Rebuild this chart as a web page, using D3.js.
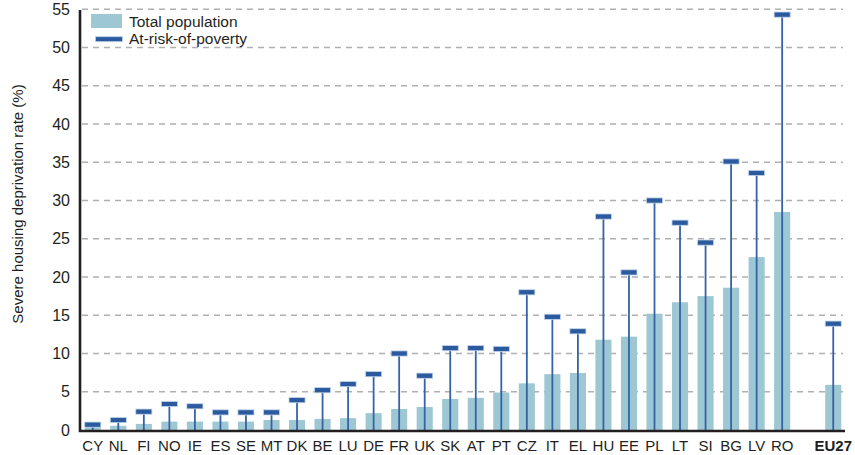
<!DOCTYPE html>
<html>
<head>
<meta charset="utf-8">
<script src="https://cdn.jsdelivr.net/npm/d3@7/dist/d3.min.js"></script>
<style>
  html, body { margin: 0; padding: 0; background: #fff; }
  svg { display: block; font-family: "Liberation Sans", Arial, Helvetica, sans-serif; }
</style>
</head>
<body>
<svg id="chart" width="855" height="455"></svg>
<script>
const categories = ["CY","NL","FI","NO","IE","ES","SE","MT","DK","BE","LU","DE","FR","UK","SK","AT","PT","CZ","IT","EL","HU","EE","PL","LT","SI","BG","LV","RO","","EU27"];
const totalPopulation = [0.35,0.55,0.8,1.1,1.1,1.1,1.1,1.3,1.3,1.45,1.55,2.2,2.75,3.0,4.05,4.2,4.9,6.1,7.3,7.45,11.8,12.2,15.2,16.7,17.5,18.6,22.6,28.5,null,5.9];
const atRiskOfPoverty = [0.7,1.3,2.4,3.4,3.1,2.3,2.3,2.3,3.9,5.2,6.0,7.3,10.0,7.1,10.7,10.7,10.6,18.0,14.8,12.9,27.9,20.6,30.0,27.1,24.5,35.1,33.6,54.3,null,13.9];
const yTicks = [0,5,10,15,20,25,30,35,40,45,50,55];
const yLabel = "Severe housing deprivation rate (%)";
const legendLabels = ["Total population","At-risk-of-poverty"];

(function () {
const barColor = "#9cc7d3";
const capColor = "#2b5b9e";
const stemColor = "#3563a6";
const ink = "#231f20";

const svg = d3.select("#chart");
const pLeft = 80, pRight = 846, pTop = 10, pBottom = 430;

const slots = categories.map((c, i) => c === "" ? "__gap" + i : c);
const x = d3.scaleBand().domain(slots).range([pLeft, pRight]).paddingInner(0.37).paddingOuter(0.185);
const y = d3.scaleLinear().domain([0, 55]).range([pBottom, pBottom - 55 * 7.65]);

// gridlines
svg.append("g").selectAll("line").data(yTicks.filter(d => d > 0)).join("line")
  .attr("x1", pLeft + 2).attr("x2", 843)
  .attr("y1", d => y(d)).attr("y2", d => y(d))
  .attr("stroke", "#b0b0b0").attr("stroke-width", 1.5).attr("stroke-dasharray", "6,5");

const data = categories.map((c, i) => ({ key: slots[i], label: c, tot: totalPopulation[i], risk: atRiskOfPoverty[i] }))
  .filter(d => d.label !== "");

// bars
svg.append("g").selectAll("rect").data(data).join("rect")
  .attr("x", d => x(d.key)).attr("width", x.bandwidth())
  .attr("y", d => y(d.tot)).attr("height", d => y(0) - y(d.tot))
  .attr("fill", barColor);

// stems
svg.append("g").selectAll("line").data(data).join("line")
  .attr("x1", d => x(d.key) + x.bandwidth() / 2).attr("x2", d => x(d.key) + x.bandwidth() / 2)
  .attr("y1", y(0)).attr("y2", d => y(d.risk))
  .attr("stroke", stemColor).attr("stroke-width", 1.8);

// caps
svg.append("g").selectAll("rect").data(data).join("rect")
  .attr("x", d => x(d.key)).attr("width", x.bandwidth())
  .attr("y", d => y(d.risk) - 2.6).attr("height", 5.2)
  .attr("fill", capColor).attr("stroke", "#c5d5ea").attr("stroke-width", 0.8);

// axes
const yAxis = d3.axisLeft(y).tickValues(yTicks).tickSize(0).tickPadding(10);
const gy = svg.append("g").attr("transform", `translate(${pLeft},0)`).call(yAxis);
gy.select(".domain").remove();
gy.selectAll("text").attr("font-size", 16).attr("fill", ink).attr("font-family", "Liberation Sans, Arial, sans-serif");

svg.append("line").attr("x1", pLeft).attr("x2", pLeft).attr("y1", pTop).attr("y2", pBottom + 2)
  .attr("stroke", ink).attr("stroke-width", 2.6);

const xAxis = d3.axisBottom(x).tickSize(0).tickPadding(0).tickFormat(k => k.startsWith("__gap") ? "" : k);
const gx = svg.append("g").attr("transform", `translate(0,${pBottom})`).call(xAxis);
gx.select(".domain").remove();
gx.selectAll("text").attr("font-size", 15).attr("fill", ink).attr("dy", null).attr("y", 21)
  .attr("font-family", "Liberation Sans, Arial, sans-serif")
  .attr("font-weight", k => k === "EU27" ? "bold" : "normal");

svg.append("line").attr("x1", pLeft - 1).attr("x2", 845).attr("y1", pBottom + 1).attr("y2", pBottom + 1)
  .attr("stroke", ink).attr("stroke-width", 2.6);

// y label
svg.append("text").attr("transform", "translate(23,204) rotate(-90)")
  .attr("text-anchor", "middle").attr("font-size", 15).attr("fill", ink).text(yLabel);

// legend
const lg = svg.append("g");
lg.append("rect").attr("x", 91).attr("y", 14).attr("width", 31).attr("height", 14).attr("fill", barColor);
lg.append("rect").attr("x", 95.5).attr("y", 36.7).attr("width", 27).attr("height", 5)
  .attr("fill", capColor).attr("stroke", "#c5d5ea").attr("stroke-width", 0.8);
lg.append("text").attr("x", 129).attr("y", 27).attr("font-size", 15.5).attr("fill", ink).text(legendLabels[0]);
lg.append("text").attr("x", 129).attr("y", 44).attr("font-size", 15.5).attr("fill", ink).text(legendLabels[1]);
})();
</script>
</body>
</html>
